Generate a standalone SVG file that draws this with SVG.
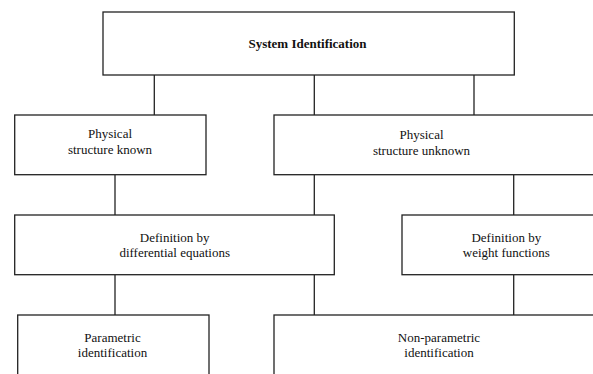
<svg xmlns="http://www.w3.org/2000/svg" width="593" height="374" viewBox="0 0 593 374">
<style>
rect{fill:#fff;stroke:#222;stroke-width:1.3}
line{stroke:#222;stroke-width:1.3}
text{font-family:"Liberation Serif","Times New Roman",serif;font-size:13px;fill:#111;text-anchor:middle}
.b{font-weight:bold}
</style>
<rect x="0" y="0" width="593" height="374" style="fill:#fff;stroke:none"/>
<g id="connectors">
<line x1="154.3" y1="75" x2="154.3" y2="115"/>
<line x1="314.3" y1="75" x2="314.3" y2="115"/>
<line x1="474" y1="75" x2="474" y2="115"/>
<line x1="115" y1="174.7" x2="115" y2="215"/>
<line x1="314.3" y1="174.7" x2="314.3" y2="215"/>
<line x1="513.7" y1="174.7" x2="513.7" y2="215"/>
<line x1="115" y1="274.7" x2="115" y2="315"/>
<line x1="314.3" y1="274.7" x2="314.3" y2="315"/>
<line x1="513.7" y1="274.7" x2="513.7" y2="315"/>
</g>
<g id="system">
<rect x="103" y="12" width="411.3" height="63"/>
<text class="b" x="307.5" y="47.5">System Identification</text>
</g>
<g id="known">
<rect x="14.7" y="115" width="191.3" height="59.7"/>
<text x="110" y="137.7">Physical</text>
<text x="110" y="154">structure known</text>
</g>
<g id="unknown">
<rect x="274" y="115" width="336" height="59.7"/>
<text x="421.5" y="138.7">Physical</text>
<text x="421.5" y="155">structure unknown</text>
</g>
<g id="defdiff">
<rect x="14.7" y="215" width="319.6" height="59.7"/>
<text x="174.7" y="241.7">Definition by</text>
<text x="174.7" y="257">differential equations</text>
</g>
<g id="defweight">
<rect x="402" y="215" width="209" height="59.7"/>
<text x="506.3" y="241.7">Definition by</text>
<text x="506.3" y="257.3">weight functions</text>
</g>
<g id="param">
<rect x="17.7" y="315" width="191.3" height="75"/>
<text x="112.5" y="341.7">Parametric</text>
<text x="112.5" y="357">identification</text>
</g>
<g id="nonparam">
<rect x="274" y="315" width="336" height="75"/>
<text x="439" y="341.7">Non-parametric</text>
<text x="439" y="357">identification</text>
</g>
</svg>
